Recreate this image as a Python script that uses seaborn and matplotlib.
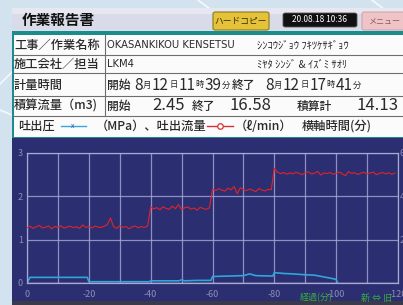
import matplotlib
matplotlib.use("Agg")
import matplotlib.pyplot as plt
import matplotlib.patches as mpatches
import matplotlib.lines as mlines
import seaborn as sns
import pandas as pd

# ---- report header data ----
title = "作業報告書"
stamp = "20.08.18 10:36"
job_name = "OKASANKIKOU KENSETSU"
job_kana = "ｼﾝｺｳｼﾞｮｳ ﾌｷﾂｹｻｷﾞｮｳ"
company = "LKM4"
staff_kana = "ﾐﾔﾀ ｼﾝｼﾞ & ｲｽﾞﾐ ｻｵﾘ"
start_time = ["8", "12", "11", "39"]
end_time = ["8", "12", "17", "41"]
vol_start = "2.45"
vol_end = "16.58"
vol_total = "14.13"

# ---- chart data (minutes) ----
flow_a = [2.55, 2.62, 2.52, 2.60, 2.66, 2.54, 2.58, 2.63, 2.50, 2.61,
          2.57, 2.64, 2.53, 2.59, 2.62, 2.55, 2.60, 2.52, 2.68, 2.57,
          2.61, 2.54, 2.63, 2.58, 2.56, 2.62, 2.70, 3.00, 2.60, 2.52,
          2.64, 2.57, 2.61, 2.50, 2.59, 2.63, 2.55, 2.60, 2.57, 2.62]
flow_b = [3.50, 3.42, 3.48, 3.38, 3.52, 3.44, 3.40, 3.55, 3.43, 3.62,
          3.39, 3.47, 3.51, 3.41, 3.46, 3.36, 3.49, 3.44, 3.40, 3.47]
flow_c = [4.32, 4.27, 4.35, 4.29, 4.24, 4.38, 4.30, 4.45, 4.12, 4.40,
          4.31, 4.26, 4.34, 4.28, 4.22, 4.36, 4.29, 4.25, 4.33, 4.30]
flow_d = [5.30, 5.12, 5.05, 5.10, 5.02, 5.08, 5.04, 5.11, 5.06, 5.00,
          5.09, 5.13, 5.03, 5.07, 5.15, 4.98, 5.08, 5.05, 5.10, 5.02,
          5.06, 5.12, 5.04, 4.95, 5.14, 5.06, 5.09, 5.01, 5.07, 5.11,
          5.03, 5.08, 5.12, 5.00, 5.06, 5.10, 5.04, 5.09, 5.02, 5.07]
flow = flow_a + flow_b + flow_c + flow_d
flow_t = list(range(len(flow)))

p_time = [0, 1, 10, 19.5, 20, 30, 39.5, 40, 45, 49, 50, 51, 55, 59.5, 60,
          65, 70, 72, 74, 79.5, 80, 83, 86, 90, 93, 96, 99, 100, 100.5]
p_val = [0.00, 0.13, 0.13, 0.13, 0.03, 0.03, 0.03, 0.05, 0.05, 0.05, 0.07, 0.05,
         0.06, 0.06, 0.15, 0.16, 0.17, 0.21, 0.17, 0.16, 0.24, 0.22, 0.21, 0.19,
         0.18, 0.14, 0.10, 0.08, 0.00]

plt.rcParams['font.family'] = ['Noto Sans CJK JP', 'DejaVu Sans']

W, H = 403, 305
fig = plt.figure(figsize=(W / 100, H / 100), dpi=100)
fig.patch.set_facecolor('#d3e2ef')


def fx(x):
    return x / W


def fy(y):
    return 1 - y / H


def box(x0, y0, x1, y1, fc, ec='none', lw=0, rounded=False):
    if rounded:
        p = mpatches.FancyBboxPatch((fx(x0), fy(y1)), fx(x1) - fx(x0), fy(y0) - fy(y1),
                                    boxstyle="round,pad=0,rounding_size=0.006",
                                    transform=fig.transFigure, fc=fc, ec=ec, lw=lw)
    else:
        p = mpatches.Rectangle((fx(x0), fy(y1)), fx(x1) - fx(x0), fy(y0) - fy(y1),
                               transform=fig.transFigure, fc=fc, ec=ec, lw=lw)
    p.set_zorder(-5)
    fig.add_artist(p)


def hline(y, x0, x1, color, lw=0.8):
    fig.add_artist(mlines.Line2D([fx(x0), fx(x1)], [fy(y), fy(y)], color=color, lw=lw,
                                 transform=fig.transFigure))


def txt(x, y, s, size, color='#2a2a2a', **kw):
    return fig.text(fx(x), fy(y), s, fontsize=size, color=color, va='center', **kw)


# background streaks
for xs, ys in [([0, 12], [84, 72]), ([0, 12], [110, 115]), ([198, 214], [0, 12]),
               ([372, 385], [0, 10])]:
    ln = mlines.Line2D([fx(v) for v in xs], [fy(v) for v in ys], color='white', lw=1.2,
                       alpha=0.8, transform=fig.transFigure)
    ln.set_zorder(-6)
    fig.add_artist(ln)

# title bar and buttons
box(12, 8, 403, 30, '#d9dbe8')
box(12, 8, 403, 14, '#e6e7f0')
txt(22, 20, title, 10.5, color='#111111', weight='bold')
box(213, 12, 269, 30, '#e4c23a', ec='#8c7a1e', lw=0.8, rounded=True)
txt(241, 21, "ハードコピー", 6.3, color='#3a3000', ha='center')
box(283, 13, 357, 27, '#111111', ec='#555555', lw=0.6, rounded=True)
txt(320, 20, stamp, 6.0, color='white', ha='center')
box(362, 12, 406, 30, '#efc4c7', ec='#c89a9e', lw=0.6, rounded=True)
txt(384, 21, "メニュー", 5.8, color='#905858', ha='center')

# report table
box(12, 31, 403, 138, '#1d8b8c')
box(14, 35, 403, 137, '#fbfbfb')
for yy in [55, 73, 96, 116]:
    hline(yy, 14, 403, '#6e6e6e')
fig.add_artist(mlines.Line2D([fx(105), fx(105)], [fy(35), fy(116)], color='#6e6e6e',
                             lw=0.8, transform=fig.transFigure))

labels = ["工事／作業名称", "施工会社／担当", "計量時間", "積算流量（m3)"]
row_y = [45.5, 64, 85, 106]
for lab, yy in zip(labels, row_y):
    txt(14, yy, lab, 8.8, weight='medium')

txt(107, 45.5, job_name, 7.2, family=['Liberation Sans Narrow', 'DejaVu Sans'])
txt(257, 45.5, job_kana, 7.6)
txt(107, 64, company, 7.2, family=['Liberation Sans Narrow', 'DejaVu Sans'])
txt(257, 64, staff_kana, 7.6)

fig.canvas.draw()
rend = fig.canvas.get_renderer()


def seq(x, y, parts):
    for s, size in parts:
        t = txt(x, y, s, size)
        bb = t.get_window_extent(renderer=rend)
        x = bb.x1 + 0.5


def time_parts(v):
    return [(v[0], 11), ("月", 6), (v[1], 11), ("日", 6), (v[2], 11), ("時", 6),
            (v[3], 11), ("分", 6)]


txt(107, 85, "開始", 8.5, weight='medium')
seq(134, 85, time_parts(start_time))
txt(232, 85, "終了", 8.5, weight='medium')
seq(265, 85, time_parts(end_time))

txt(107, 106, "開始", 8.5, weight='medium')
txt(152, 106, vol_start, 12)
txt(192, 106, "終了", 8.5, weight='medium')
txt(230, 106, vol_end, 12)
txt(297, 106, "積算計", 8.5, weight='medium')
txt(398, 106, vol_total, 12, ha='right')

# legend row
ly = 126
txt(18, ly, "吐出圧", 8.8, weight='medium')
hline(ly, 61, 86, '#3aa6d8', lw=1.0)
txt(73, ly, "x", 5, color='#2060a0', ha='center')
txt(96, ly, "（MPa）、吐出流量", 8.8, weight='medium')
hline(ly, 207, 233, '#d83030', lw=1.0)
fig.add_artist(mlines.Line2D([fx(220)], [fy(ly)], marker='o', ms=4, mfc='white',
                             mec='#d83030', mew=0.9, transform=fig.transFigure))
txt(235, ly, "（ℓ/min）", 8.8, weight='medium')
txt(302, ly, "横軸時間(分)", 8.8, weight='medium')

# chart panel
box(12, 138, 403, 301, '#2b2e70')
box(12, 301, 403, 305, '#3a3a4a')

grid_c = '#a9a9d6'
ax = fig.add_axes([fx(27), fy(283), fx(398) - fx(27), fy(153) - fy(283)])
ax.set_zorder(2)
ax.patch.set_alpha(0)
ax.set_xlim(0, 120)
ax.set_ylim(0, 3)
ax.set_xticks(range(0, 121, 20))
ax.set_xticks(range(0, 121, 10), minor=True)
ax.set_xticklabels(["0" if v == 0 else f"-{v}" for v in range(0, 121, 20)])
ax.set_yticks([0, 1, 2, 3])
ax.grid(True, which='both', color=grid_c, lw=0.9, alpha=0.8)
ax.axhline(0, color='#c89ab8', lw=1.0)
for sp in ax.spines.values():
    sp.set_color(grid_c)
    sp.set_linewidth(0.9)
ax.tick_params(axis='both', which='both', length=0, colors='#8e8eb8', labelsize=6.5)
ax.tick_params(axis='x', pad=5)
ax.tick_params(axis='y', pad=3)

sns.lineplot(x=p_time, y=p_val, ax=ax, color='#2fa6d8', lw=1.2, estimator=None)

ax2 = ax.twinx()
ax2.set_zorder(3)
ax2.patch.set_alpha(0)
ax2.set_ylim(0, 6)
ax2.set_yticks([2, 4, 6])
ax2.tick_params(axis='y', length=0, colors='#8e8eb8', labelsize=6.5, pad=1)
for sp in ax2.spines.values():
    sp.set_visible(False)
sns.lineplot(x=flow_t, y=flow, ax=ax2, color='#e0242a', lw=0.8, estimator=None)
ax.set_xlabel("")
ax.set_ylabel("")
ax2.set_ylabel("")

txt(300, 298, "経過(分)", 6.5, color='#38b038')
txt(361, 298, "新 ⇔ 旧", 6.5, color='#38b038')

fig.savefig("out.png", dpi=100, facecolor=fig.get_facecolor())
